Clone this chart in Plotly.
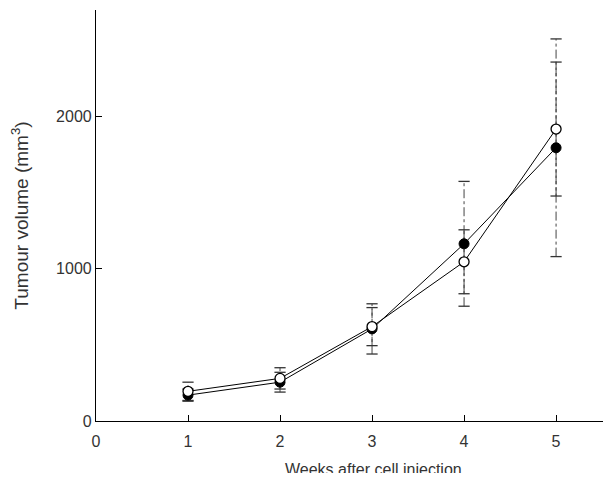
import plotly.graph_objects as go

weeks = [1, 2, 3, 4, 5]
open_vals = [195, 280, 620, 1046, 1918]
open_err = [60, 70, 125, 210, 440]
filled_vals = [170, 255, 605, 1164, 1795]
filled_err = [40, 65, 165, 410, 715]

x_ticks = [0, 1, 2, 3, 4, 5]
y_ticks = [0, 1000, 2000]

x_title = "Weeks after cell injection"
y_title = "Tumour volume (mm<sup>3</sup>)"

font = dict(family="Liberation Sans, Arial, Helvetica, sans-serif", size=16, color="#333333")

fig = go.Figure()


def add_errors(vals, errs):
    xs, ys, cx, cy = [], [], [], []
    for w, v, e in zip(weeks, vals, errs):
        xs += [w, w, None]
        ys += [v - e, v + e, None]
        cx += [w, w]
        cy += [v - e, v + e]
    fig.add_trace(go.Scatter(x=xs, y=ys, mode="lines",
                             line=dict(color="#444444", width=1, dash="dashdot"),
                             showlegend=False, hoverinfo="skip"))
    fig.add_trace(go.Scatter(x=cx, y=cy, mode="markers",
                             marker=dict(symbol="line-ew-open", size=8, color="#333333",
                                         line=dict(color="#333333", width=1.3)),
                             showlegend=False, hoverinfo="skip"))


add_errors(filled_vals, filled_err)
add_errors(open_vals, open_err)

fig.add_trace(go.Scatter(
    x=weeks, y=filled_vals, mode="lines+markers",
    line=dict(color="black", width=1),
    marker=dict(symbol="circle", size=10, color="black", line=dict(color="black", width=1)),
    showlegend=False,
))
fig.add_trace(go.Scatter(
    x=weeks, y=open_vals, mode="lines+markers",
    line=dict(color="black", width=1),
    marker=dict(symbol="circle", size=10, color="white", line=dict(color="black", width=1.3)),
    showlegend=False,
))

fig.add_annotation(
    text=x_title, xref="x", x=3.02, yref="paper", y=0,
    yanchor="middle", xanchor="center", yshift=-48, showarrow=False, font=font,
)

fig.update_layout(
    width=595, height=465,
    margin=dict(l=88, r=0, t=2, b=52),
    plot_bgcolor="white", paper_bgcolor="white",
    font=font,
    xaxis=dict(
        range=[0, 5.51], tickvals=x_ticks, ticktext=[str(v) for v in x_ticks],
        showgrid=False, zeroline=False, showline=True, linecolor="black", linewidth=1.2,
        ticks="inside", ticklen=6, tickcolor="black", ticklabelstandoff=6,
        automargin=False,
    ),
    yaxis=dict(
        range=[0, 2700], tickvals=y_ticks, ticktext=[str(v) for v in y_ticks],
        showgrid=False, zeroline=False, showline=True, linecolor="black", linewidth=1.2,
        ticks="inside", ticklen=6, tickcolor="black",
        automargin=False,
        title=dict(text=y_title, standoff=33),
    ),
)

fig.write_html("out.html")
